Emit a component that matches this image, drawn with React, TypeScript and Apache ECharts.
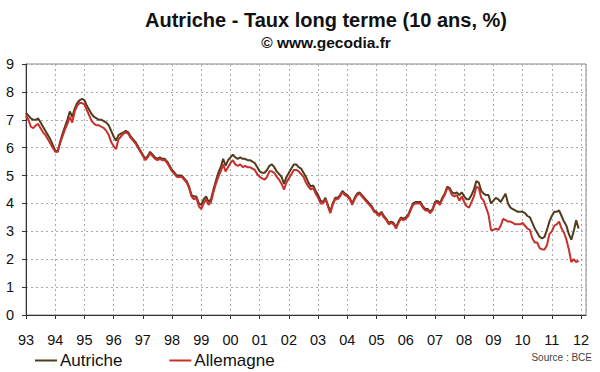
import React, { useEffect, useRef } from "react";
import * as echarts from "echarts";

const TITLE = "Autriche - Taux long terme (10 ans, %)";
const SUBTITLE = "© www.gecodia.fr";
const SOURCE = "Source : BCE";
const SERIES_NAMES = ["Autriche", "Allemagne"];
const START_YEAR = 1993;

// Monthly values, Jan 1993 .. Dec 2011
const AUTRICHE = [
  7.25, 7.15, 7.05, 7.0, 7.0, 7.05, 6.9, 6.75, 6.6, 6.45, 6.3, 6.1,
  5.9, 5.85, 6.2, 6.5, 6.75, 7.0, 7.3, 7.1, 7.4, 7.6, 7.7, 7.75,
  7.7, 7.5, 7.35, 7.2, 7.1, 7.05, 7.0, 7.0, 6.95, 6.9, 6.8, 6.6,
  6.4, 6.25, 6.45, 6.5, 6.55, 6.6, 6.55, 6.4, 6.3, 6.2, 6.05, 5.9,
  5.75, 5.6, 5.7, 5.85, 5.75, 5.65, 5.6, 5.65, 5.6, 5.6, 5.5, 5.35,
  5.2, 5.1, 5.0, 5.0, 5.0, 4.9, 4.8, 4.6, 4.3, 4.25, 4.25, 4.0,
  3.95, 4.15, 4.25, 4.05, 4.15, 4.5, 4.8, 5.1, 5.3, 5.6, 5.35, 5.55,
  5.65, 5.75, 5.65, 5.6, 5.65, 5.6, 5.6, 5.55, 5.55, 5.5, 5.45, 5.3,
  5.15, 5.1, 5.1, 5.2, 5.35, 5.4, 5.3, 5.15, 5.05, 4.95, 4.7, 4.95,
  5.1, 5.25, 5.4, 5.4, 5.3, 5.25, 5.1, 4.95, 4.75, 4.6, 4.65, 4.45,
  4.3, 4.1, 4.05, 4.2, 3.95, 3.7, 4.0, 4.2, 4.2, 4.3, 4.45, 4.35,
  4.3, 4.2, 4.0, 4.2, 4.35, 4.4, 4.3, 4.2, 4.1, 4.0, 3.9, 3.75,
  3.7, 3.6, 3.7, 3.55, 3.45, 3.3, 3.35, 3.3, 3.15, 3.35, 3.5, 3.45,
  3.5, 3.6, 3.8, 4.0, 4.05, 4.05, 4.05, 3.9, 3.8, 3.8, 3.7, 3.8,
  4.05, 4.1, 4.0, 4.2, 4.35, 4.6, 4.55, 4.4, 4.35, 4.4, 4.3, 4.4,
  4.25, 4.15, 4.15, 4.3, 4.5, 4.8, 4.75, 4.45, 4.35, 4.3, 4.3, 4.0,
  4.1, 4.2, 4.15, 4.05, 4.2, 4.35, 4.0, 3.85, 3.8, 3.75, 3.7, 3.7,
  3.7, 3.65, 3.55, 3.5, 3.3, 3.1, 2.95, 2.8, 2.75, 2.8, 3.05, 3.35,
  3.55, 3.7, 3.7, 3.75, 3.55, 3.35, 3.2, 2.9, 2.7, 3.0, 3.4, 3.1,
];

const ALLEMAGNE = [
  7.15, 7.0, 6.75, 6.7, 6.8, 6.85, 6.7, 6.55, 6.45, 6.3, 6.15, 6.0,
  5.85, 5.85, 6.15, 6.4, 6.65, 6.85, 7.1, 6.9, 7.3, 7.5, 7.6, 7.6,
  7.55, 7.35, 7.15, 6.95, 6.85, 6.8, 6.8, 6.75, 6.7, 6.6, 6.45, 6.2,
  6.05, 5.95, 6.3, 6.4, 6.5, 6.55, 6.5, 6.35, 6.25, 6.15, 6.0, 5.85,
  5.7, 5.55, 5.65, 5.8, 5.7, 5.6, 5.55, 5.6, 5.55, 5.55, 5.45, 5.3,
  5.15, 5.05, 4.95, 4.95, 4.95, 4.85, 4.75, 4.55, 4.25, 4.15, 4.2, 3.9,
  3.8, 4.0, 4.15, 3.95, 4.05, 4.4, 4.7, 4.95, 5.15, 5.4, 5.15, 5.3,
  5.45, 5.55, 5.4, 5.35, 5.4, 5.3, 5.35, 5.3, 5.3, 5.25, 5.2, 5.05,
  4.95, 4.9, 4.85, 4.95, 5.15, 5.15, 5.1, 4.95, 4.85, 4.7, 4.5, 4.75,
  4.9, 5.05, 5.2, 5.2, 5.15, 5.05, 4.95, 4.75, 4.6, 4.5, 4.55, 4.35,
  4.2, 4.0, 4.0, 4.15, 3.9, 3.65, 3.95, 4.15, 4.15, 4.25, 4.4, 4.3,
  4.25, 4.15, 3.95, 4.15, 4.3, 4.35, 4.25, 4.15, 4.05, 3.95, 3.85, 3.7,
  3.65, 3.55, 3.65, 3.5, 3.4, 3.25, 3.3, 3.25, 3.1, 3.3, 3.45, 3.4,
  3.45, 3.55, 3.75, 3.95, 4.0, 4.0, 4.0, 3.85, 3.75, 3.75, 3.65, 3.75,
  4.0, 4.05, 3.95, 4.15, 4.3, 4.55, 4.5, 4.3, 4.25, 4.3, 4.1, 4.25,
  4.05, 3.9, 3.85, 4.05, 4.25, 4.6, 4.55, 4.2, 4.1, 3.85, 3.6, 3.05,
  3.05, 3.1, 3.05, 3.2, 3.45, 3.4, 3.35, 3.35, 3.3, 3.25, 3.25, 3.25,
  3.3, 3.2, 3.1, 3.05, 2.75, 2.6, 2.6, 2.4, 2.35, 2.35, 2.5, 2.9,
  3.0, 3.2, 3.25, 3.35, 3.1, 2.95, 2.7, 2.35, 1.9, 2.0, 1.9, 1.95,
];

const COLORS = ["#4e3c1c", "#c8302b"];
const FONT = "Arial, 'Liberation Sans', sans-serif";

const toPairs = (vals: number[]) =>
  vals.map((v, i) => [START_YEAR + i / 12, v]);

export default function App() {
  const ref = useRef<HTMLDivElement>(null);
  useEffect(() => {
    document.body.style.margin = "0";
    if (!ref.current) return;
    const chart = echarts.init(ref.current, null, { renderer: "svg" });
    chart.setOption({
      animation: false,
      backgroundColor: "#ffffff",
      textStyle: { fontFamily: FONT },
      title: {
        text: TITLE,
        subtext: SUBTITLE,
        left: 321,
        top: 5,
        textAlign: "center",
        itemGap: 4,
        textStyle: { fontFamily: FONT, fontSize: 20, fontWeight: "bold", color: "#111" },
        subtextStyle: { fontFamily: FONT, fontSize: 15.5, fontWeight: "bold", color: "#111" },
      },
      legend: {
        left: 30,
        top: 347,
        icon: "rect",
        itemWidth: 22,
        itemHeight: 2,
        itemGap: 47,
        textStyle: { fontFamily: FONT, fontSize: 17, color: "#111", padding: [0, 0, 0, -2] },
        data: SERIES_NAMES,
      },
      grid: {
        left: 26,
        right: 14,
        top: 64,
        bottom: 57,
        show: true,
        borderColor: "#888",
        borderWidth: 1,
      },
      xAxis: {
        type: "value",
        min: 1993,
        max: 2012.17,
        interval: 1,
        axisLine: { show: true, lineStyle: { color: "#333", width: 1 } },
        axisTick: { show: true, length: 4, lineStyle: { color: "#333" } },
        axisLabel: {
          color: "#111",
          fontSize: 14.5,
          fontFamily: FONT,
          margin: 17,
          formatter: (v: number) => String(Math.round(v) % 100).padStart(2, "0"),
        },
        splitLine: { show: true, lineStyle: { color: "#aaa", type: [2, 3], width: 1 } },
      },
      yAxis: {
        type: "value",
        min: 0,
        max: 9,
        interval: 1,
        axisLine: { show: true, lineStyle: { color: "#333", width: 1 } },
        axisTick: { show: true, length: 4, lineStyle: { color: "#333" } },
        axisLabel: { color: "#111", fontSize: 14.5, fontFamily: FONT, margin: 12 },
        splitLine: { show: true, lineStyle: { color: "#aaa", type: [2, 3], width: 1 } },
      },
      series: [
        {
          name: SERIES_NAMES[0],
          type: "line",
          data: toPairs(AUTRICHE),
          symbol: "none",
          lineStyle: { color: COLORS[0], width: 2 },
          itemStyle: { color: COLORS[0] },
        },
        {
          name: SERIES_NAMES[1],
          type: "line",
          data: toPairs(ALLEMAGNE),
          symbol: "none",
          lineStyle: { color: COLORS[1], width: 2 },
          itemStyle: { color: COLORS[1] },
        },
      ],
      graphic: [
        {
          type: "text",
          right: 8,
          top: 352,
          style: { text: SOURCE, font: `10px ${FONT}`, fill: "#444" },
        },
      ],
    });
    return () => chart.dispose();
  }, []);
  return <div ref={ref} style={{ width: 600, height: 372 }} />;
}
